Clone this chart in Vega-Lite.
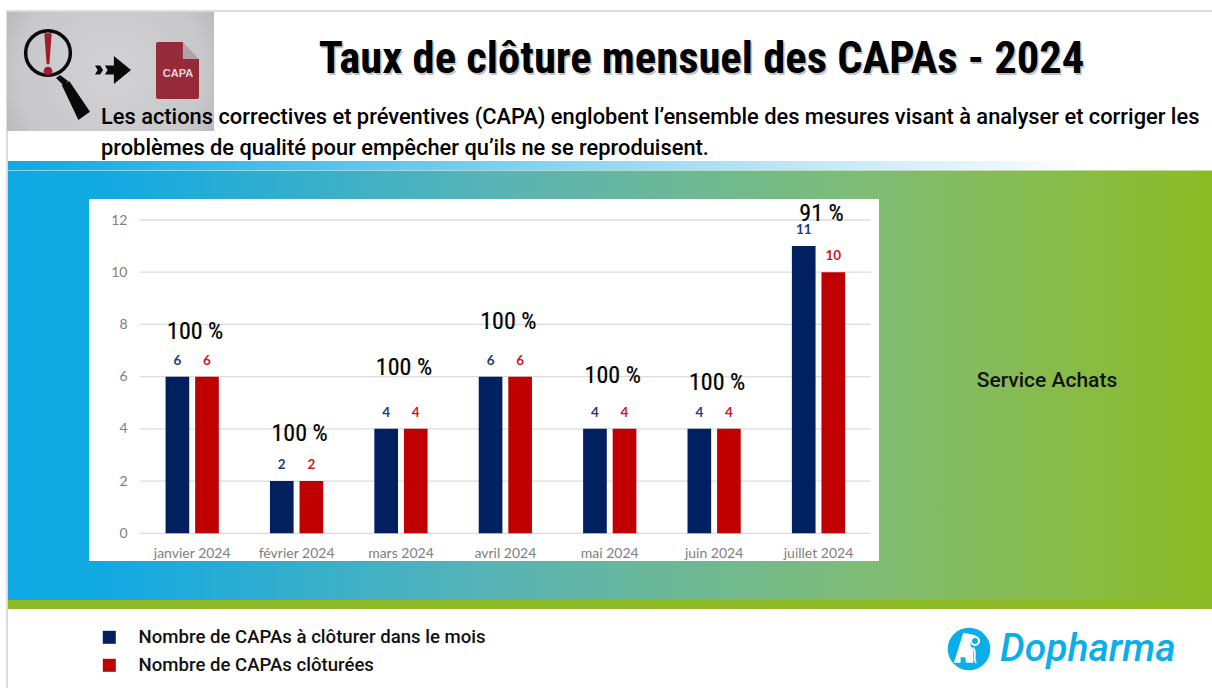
{
"$schema":"https://vega.github.io/schema/vega-lite/v6.json",
"width":730.7,"height":313.3,
"autosize":{"type":"none"},
"padding":{"left":140,"top":220,"right":341.3,"bottom":154.7},
"background":"white",
"config":{"view":{"stroke":null}},
"datasets":{
"barres":[
{"mois":"janvier 2024","serie":"Nombre de CAPAs à clôturer dans le mois","valeur":6},
{"mois":"janvier 2024","serie":"Nombre de CAPAs clôturées","valeur":6},
{"mois":"février 2024","serie":"Nombre de CAPAs à clôturer dans le mois","valeur":2},
{"mois":"février 2024","serie":"Nombre de CAPAs clôturées","valeur":2},
{"mois":"mars 2024","serie":"Nombre de CAPAs à clôturer dans le mois","valeur":4},
{"mois":"mars 2024","serie":"Nombre de CAPAs clôturées","valeur":4},
{"mois":"avril 2024","serie":"Nombre de CAPAs à clôturer dans le mois","valeur":6},
{"mois":"avril 2024","serie":"Nombre de CAPAs clôturées","valeur":6},
{"mois":"mai 2024","serie":"Nombre de CAPAs à clôturer dans le mois","valeur":4},
{"mois":"mai 2024","serie":"Nombre de CAPAs clôturées","valeur":4},
{"mois":"juin 2024","serie":"Nombre de CAPAs à clôturer dans le mois","valeur":4},
{"mois":"juin 2024","serie":"Nombre de CAPAs clôturées","valeur":4},
{"mois":"juillet 2024","serie":"Nombre de CAPAs à clôturer dans le mois","valeur":11},
{"mois":"juillet 2024","serie":"Nombre de CAPAs clôturées","valeur":10}],
"taux":[
{"mois":"janvier 2024","taux":"100 %","niveau":7.79},
{"mois":"février 2024","taux":"100 %","niveau":3.88},
{"mois":"mars 2024","taux":"100 %","niveau":6.4},
{"mois":"avril 2024","taux":"100 %","niveau":8.17},
{"mois":"mai 2024","taux":"100 %","niveau":6.1},
{"mois":"juin 2024","taux":"100 %","niveau":5.83},
{"mois":"juillet 2024","taux":"91 %","niveau":12.3}],
"graduations":[{"g":0},{"g":2},{"g":4},{"g":6},{"g":8},{"g":10},{"g":12}],
"vide":[{}]
},
"layer":[
{"data":{"name":"vide"},"layer":[
{"mark":{"type":"rect","x":-134,"x2":1072,"y":-210,"y2":-208,"fill":"#dcdcdc"},"encoding":{}},
{"mark":{"type":"rect","x":-134,"x2":-132,"y":-210,"y2":468,"fill":"#dcdcdc"},"encoding":{}},
{"mark":{"type":"rect","x":-133,"x2":74,"y":-208,"y2":-89,"fill":{"gradient":"radial","x1":0.5,"y1":0.5,"r1":0,"x2":0.5,"y2":0.5,"r2":0.75,"stops":[{"offset":0,"color":"#d2d2d4"},{"offset":0.6,"color":"#c8c8ca"},{"offset":1,"color":"#a6a6a8"}]}},"encoding":{}},
{"mark":{"type":"point","x":-92,"y":-167,"shape":"circle","size":2000,"filled":false,"stroke":"#0a0a0a","strokeWidth":3.5,"opacity":1},"encoding":{}},
{"mark":{"type":"point","x":-65,"y":-120,"shape":"M-.55,-.625 L-.24,-.79 L.625,.49 L.14,.83 Z M-.79,-.92 L-.625,-1.04 L-.29,-.79 L-.5,-.625 Z","size":2304,"filled":true,"fill":"#0a0a0a","stroke":null,"opacity":1},"encoding":{}},
{"mark":{"type":"point","x":-92,"y":-166,"shape":"M-.16,-.9 L.16,-.9 L.06,.45 L-.06,.45 Z M-.19,.74 A.19,.19 0 1 0 .19,.74 A.19,.19 0 1 0 -.19,.74 Z","size":2116,"filled":true,"fill":"#A01C2C","stroke":null,"opacity":1},"encoding":{}},
{"mark":{"type":"point","x":-27,"y":-150,"shape":"M-0.45,-0.25 L0.05,-0.25 L0.05,-0.78 L1,0 L0.05,0.78 L0.05,0.25 L-0.45,0.25 L-0.3,0 Z M-1,-0.25 L-0.72,-0.25 L-0.55,0 L-0.72,0.25 L-1,0.25 L-0.85,0 Z","size":1296,"filled":true,"fill":"#0a0a0a","stroke":null,"opacity":1},"encoding":{}},
{"mark":{"type":"point","x":37.5,"y":-149.5,"shape":"M-.754,-.93 Q-.754,-1 -.68,-1 L.19,-1 L.19,-.4 L.754,-.4 L.754,.93 Q.754,1 .68,1 L-.68,1 Q-.754,1 -.754,.93 Z","size":3249,"filled":true,"fill":"#96293A","stroke":null,"opacity":1},"encoding":{}},
{"mark":{"type":"point","x":37.5,"y":-149.5,"shape":"M.19,-1 L.754,-.4 L.19,-.4 Z","size":3249,"filled":true,"fill":"#b3a3a6","stroke":null,"opacity":1},"encoding":{}},
{"mark":{"type":"text","x":38,"y":-146,"text":"CAPA","font":"Liberation Sans","fontWeight":"bold","fontSize":11,"fill":"#E4D5D7","align":"center","baseline":"middle"},"encoding":{}},
{"mark":{"type":"text","x":563,"y":-158,"text":"Taux de clôture mensuel des CAPAs - 2024","font":"'Roboto Condensed', Roboto","fontWeight":"bold","fontSize":44.6,"fill":"#888888","opacity":0.5,"align":"center","baseline":"middle"},"encoding":{}},
{"mark":{"type":"text","x":561.5,"y":-160,"text":"Taux de clôture mensuel des CAPAs - 2024","font":"'Roboto Condensed', Roboto","fontWeight":"bold","fontSize":44.6,"fill":"black","align":"center","baseline":"middle"},"encoding":{}},
{"mark":{"type":"text","x":-39,"y":-103,"text":"Les actions correctives et préventives (CAPA) englobent l’ensemble des mesures visant à analyser et corriger les","font":"Roboto","fontWeight":500,"fontSize":21.85,"fill":"black","align":"left","baseline":"middle"},"encoding":{}},
{"mark":{"type":"text","x":-39,"y":-72,"text":"problèmes de qualité pour empêcher qu’ils ne se reproduisent.","font":"Roboto","fontWeight":500,"fontSize":21.85,"fill":"black","align":"left","baseline":"middle"},"encoding":{}},
{"mark":{"type":"rect","x":-132,"x2":1072,"y":-59,"y2":-50,"fill":{"gradient":"linear","x1":0,"y1":0,"x2":1,"y2":0,"stops":[{"offset":0,"color":"#0EA9E3"},{"offset":0.9,"color":"#ffffff"}]}},"encoding":{}},
{"mark":{"type":"rect","x":-132,"x2":1072,"y":-49.5,"y2":380,"fill":{"gradient":"linear","x1":0,"y1":0,"x2":1,"y2":0,"stops":[{"offset":0,"color":"#0EA9E3"},{"offset":0.08,"color":"#12A9E2"},{"offset":0.41,"color":"#5AB4B5"},{"offset":0.72,"color":"#80BC74"},{"offset":1,"color":"#8DBB25"}]}},"encoding":{}},
{"mark":{"type":"rect","x":-132,"x2":1072,"y":380,"y2":389,"fill":"#8DBB25"},"encoding":{}},
{"mark":{"type":"rect","x":-51,"x2":739,"y":-21,"y2":341,"fill":"white"},"encoding":{}},
{"mark":{"type":"text","x":907,"y":161,"text":"Service Achats","font":"Roboto","fontWeight":500,"fontSize":21,"fill":"#111111","align":"center","baseline":"middle"},"encoding":{}},
{"mark":{"type":"point","x":829,"y":429,"shape":"circle","size":1810,"filled":true,"fill":"#0AAEE8","stroke":null,"opacity":1},"encoding":{}},
{"mark":{"type":"point","x":830,"y":430,"shape":"M-.28,-.72 L.24,-.61 L0,-.35 L.03,-.17 L.14,0 L.14,.53 L-.17,.53 L-.2,.3 L-.39,.3 L-.39,.53 L-.67,.53 Z","size":2304,"filled":true,"fill":"white","stroke":null,"opacity":1},"encoding":{}},
{"mark":{"type":"point","x":835,"y":421,"shape":"circle","size":64,"filled":false,"stroke":"white","strokeWidth":2,"opacity":1},"encoding":{}},
{"mark":{"type":"point","x":830,"y":430,"shape":"M.12,-.1 C.32,.1 .1,.3 .25,.55","size":2304,"filled":false,"stroke":"white","strokeWidth":1.6,"opacity":1},"encoding":{}},
{"mark":{"type":"text","x":860,"y":429,"text":"Dopharma","font":"Roboto","fontStyle":"italic","fontWeight":500,"fontSize":39,"fill":"#0AAEE8","align":"left","baseline":"middle"},"encoding":{}}
]},
{"data":{"name":"graduations"},"mark":{"type":"rule","stroke":"#dcdcdc","strokeWidth":1.3},"encoding":{"y":{"field":"g","type":"quantitative"}}},
{"data":{"name":"barres"},"mark":{"type":"bar","stroke":null},"encoding":{
"x":{"field":"mois","type":"nominal","sort":null,"scale":{"paddingInner":0.49,"paddingOuter":0.245},"axis":{"title":null,"domain":false,"ticks":false,"labelAngle":0,"labelPadding":13,"labelFont":"Lato","labelFontSize":14,"labelColor":"#808080","zindex":1}},
"xOffset":{"field":"serie","type":"nominal","sort":null,"scale":{"paddingInner":0.2}},
"y":{"field":"valeur","type":"quantitative","scale":{"domain":[0,12],"nice":false},"axis":{"title":null,"values":[0,2,4,6,8,10,12],"domain":false,"ticks":false,"grid":false,"labelPadding":13,"labelFont":"Lato","labelFontSize":14,"labelColor":"#808080","zindex":1}},
"color":{"field":"serie","type":"nominal","sort":null,"scale":{"domain":["Nombre de CAPAs à clôturer dans le mois","Nombre de CAPAs clôturées"],"range":["#002060","#C00000"]},"legend":{"title":null,"orient":"none","legendX":-40,"legendY":408,"symbolType":"square","symbolSize":169,"symbolStrokeWidth":0,"labelFont":"Roboto","labelFontWeight":500,"labelFontSize":18.6,"labelColor":"#111111","labelOffset":20,"labelLimit":500,"rowPadding":9,"symbolOpacity":1}}
}},
{"data":{"name":"barres"},"mark":{"type":"text","font":"Lato","fontWeight":"bold","fontSize":13.5,"baseline":"middle","dy":-16},"encoding":{
"x":{"field":"mois","type":"nominal","sort":null},
"xOffset":{"field":"serie","type":"nominal","sort":null},
"y":{"field":"valeur","type":"quantitative"},
"text":{"field":"valeur","type":"quantitative"},
"color":{"condition":{"test":"datum.serie === 'Nombre de CAPAs clôturées'","value":"#D0161F"},"value":"#1F3A7F"}
}},
{"data":{"name":"taux"},"mark":{"type":"text","font":"'Roboto Condensed', Lato","fontSize":24,"fill":"black","stroke":"black","strokeWidth":0.2,"baseline":"middle","dx":3,"dy":2},"encoding":{
"x":{"field":"mois","type":"nominal","sort":null},
"y":{"field":"niveau","type":"quantitative"},
"text":{"field":"taux","type":"nominal"}
}}
]
}
